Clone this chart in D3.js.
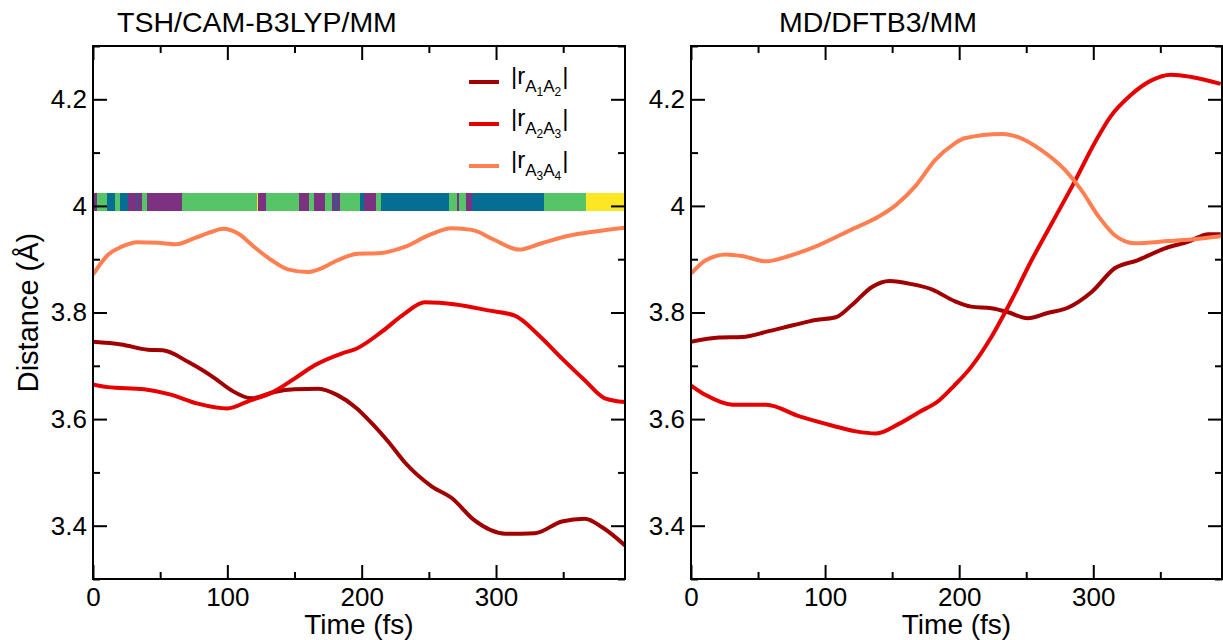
<!DOCTYPE html>
<html>
<head>
<meta charset="utf-8">
<script src="https://cdn.jsdelivr.net/npm/d3@7"></script>
<style>
  html, body { margin: 0; padding: 0; background: #fff; }
  svg { display: block; }
  text { font-family: "Liberation Sans", Arial, Helvetica, sans-serif; fill: #000; }
</style>
</head>
<body>
<svg id="chart" width="1223" height="640"></svg>
<script>
// ---------------- data ----------------
const panelTitles = ["TSH/CAM-B3LYP/MM", "MD/DFTB3/MM"];
const xTicks = [0, 100, 200, 300];
const xMinorTicks = [50, 150, 250, 350];
const yTicks = [3.4, 3.6, 3.8, 4.0, 4.2];
const yMinorTicks = [3.3, 3.5, 3.7, 3.9, 4.1, 4.3];
const seriesNames = [["A", "1", "A", "2"], ["A", "2", "A", "3"], ["A", "3", "A", "4"]];
const seriesColors = ["#a00000", "#e60000", "#ff7f50"];

// TSH/CAM-B3LYP/MM
const tshTimeA1A2 = [0, 21, 41, 52, 71, 91, 103, 118, 135, 150, 168, 182, 196, 208, 220, 232, 252, 267, 284, 307, 329, 349, 366, 379, 396];
const tshA1A2     = [3.745, 3.740, 3.730, 3.729, 3.707, 3.676, 3.654, 3.639, 3.651, 3.656, 3.657, 3.645, 3.621, 3.591, 3.557, 3.519, 3.474, 3.452, 3.410, 3.385, 3.386, 3.408, 3.413, 3.397, 3.363];
const tshTimeA2A3 = [0, 11, 38, 58, 78, 100, 115, 135, 150, 165, 185, 196, 215, 232, 247, 270, 294, 314, 332, 349, 366, 381, 396];
const tshA2A3     = [3.665, 3.660, 3.656, 3.646, 3.629, 3.620, 3.633, 3.652, 3.676, 3.701, 3.723, 3.732, 3.764, 3.798, 3.819, 3.815, 3.804, 3.794, 3.757, 3.714, 3.673, 3.639, 3.632];
const tshTimeA3A4 = [0, 11, 21, 33, 48, 62, 76, 88, 97, 108, 120, 133, 145, 160, 170, 182, 197, 212, 232, 250, 267, 282, 299, 317, 334, 354, 374, 396];
const tshA3A4     = [3.871, 3.908, 3.923, 3.932, 3.931, 3.928, 3.940, 3.951, 3.957, 3.948, 3.923, 3.898, 3.881, 3.876, 3.883, 3.898, 3.910, 3.911, 3.923, 3.945, 3.958, 3.955, 3.936, 3.918, 3.930, 3.944, 3.952, 3.959];

// MD/DFTB3/MM
const mdTimeA1A2 = [0, 21, 38, 58, 76, 93, 108, 120, 135, 148, 165, 180, 196, 209, 224, 236, 251, 266, 281, 299, 316, 333, 353, 371, 386, 395];
const mdA1A2     = [3.745, 3.753, 3.754, 3.765, 3.776, 3.786, 3.791, 3.814, 3.848, 3.859, 3.853, 3.843, 3.822, 3.811, 3.808, 3.801, 3.789, 3.799, 3.809, 3.839, 3.883, 3.898, 3.920, 3.933, 3.947, 3.947];
const mdTimeA2A3 = [0, 11, 31, 56, 81, 105, 123, 138, 155, 170, 185, 196, 209, 224, 239, 254, 269, 286, 301, 313, 328, 343, 358, 373, 395];
const mdA2A3     = [3.663, 3.645, 3.627, 3.627, 3.605, 3.588, 3.577, 3.573, 3.591, 3.613, 3.635, 3.662, 3.698, 3.754, 3.823, 3.898, 3.967, 4.045, 4.118, 4.168, 4.208, 4.235, 4.246, 4.242, 4.229];
const mdTimeA3A4 = [0, 11, 26, 38, 56, 73, 95, 120, 140, 153, 168, 182, 196, 204, 232, 244, 261, 279, 291, 304, 316, 331, 356, 373, 395];
const mdA3A4     = [3.873, 3.898, 3.909, 3.906, 3.896, 3.906, 3.926, 3.956, 3.980, 4.002, 4.039, 4.086, 4.116, 4.127, 4.135, 4.129, 4.105, 4.067, 4.030, 3.980, 3.945, 3.930, 3.934, 3.937, 3.943];

// active-state strip (TSH panel): start time of each segment and state index
const stateStart = [0, 2.8, 10.2, 16.4, 20.1, 26.3, 32.5, 33.7, 36.3, 40.4, 66, 121.9, 123.1, 128.8, 153.6, 160.8, 164.6, 172.7, 177.7, 180.2, 181.9, 183.9, 198.8, 202, 210.5, 214.4, 265.3, 270.8, 272.5, 277.7, 282.4, 336, 367.1];
const stateIndex = [0, 2, 1, 2, 1, 0, 1, 0, 2, 0, 2, 3, 0, 2, 0, 2, 0, 2, 0, 1, 0, 2, 1, 0, 2, 1, 2, 0, 2, 0, 1, 2, 3];
const stateColors = ["#7d3281", "#066e93", "#55c567", "#fde725"];
const timeEnd = 396;

// ---------------- drawing ----------------
const svg = d3.select("#chart");
const yTop = 46, yBottom = 579;
const panels = [
  { x0: 93, x1: 625, title: panelTitles[0], titleX: 257,
    series: [[tshTimeA1A2, tshA1A2], [tshTimeA2A3, tshA2A3], [tshTimeA3A4, tshA3A4]], strip: true, legend: true },
  { x0: 691, x1: 1222, title: panelTitles[1], titleX: 878,
    series: [[mdTimeA1A2, mdA1A2], [mdTimeA2A3, mdA2A3], [mdTimeA3A4, mdA3A4]], strip: false, legend: false }
];

const y = d3.scaleLinear().domain([3.3, 4.3]).range([yBottom, yTop]);
const fmtY = d => String(+d.toFixed(1));

panels.forEach((p, pi) => {
  const x = d3.scaleLinear().domain([0, timeEnd]).range([p.x0, p.x1]);
  const g = svg.append("g");
  const clipId = "clip" + pi;
  svg.append("clipPath").attr("id", clipId).append("rect")
    .attr("x", p.x0).attr("y", yTop).attr("width", p.x1 - p.x0).attr("height", yBottom - yTop);

  // state strip
  if (p.strip) {
    const segs = stateStart.map((s, i) => ({ s, e: i + 1 < stateStart.length ? stateStart[i + 1] : timeEnd, k: stateIndex[i] }));
    g.append("g").selectAll("rect").data(segs).join("rect")
      .attr("x", d => x(d.s)).attr("width", d => x(d.e) - x(d.s))
      .attr("y", y(4.025)).attr("height", y(3.99) - y(4.025))
      .attr("fill", d => stateColors[d.k])
      .attr("shape-rendering", "crispEdges");
  }

  // lines
  const line = d3.line().x(d => x(d[0])).y(d => y(d[1])).curve(d3.curveMonotoneX);
  p.series.forEach((s, si) => {
    const pts = s[0].map((t, i) => [t, s[1][i]]);
    g.append("path").datum(pts).attr("d", line)
      .attr("fill", "none").attr("stroke", seriesColors[si])
      .attr("stroke-width", 4).attr("stroke-linejoin", "round").attr("stroke-linecap", "butt")
      .attr("clip-path", `url(#${clipId})`);
  });

  // axes
  const axes = [
    { a: d3.axisBottom(x).tickValues(xTicks).tickSize(-14).tickPadding(9).tickFormat(d3.format("d")), t: `translate(0,${yBottom})` },
    { a: d3.axisBottom(x).tickValues(xMinorTicks).tickSize(-7).tickFormat(""), t: `translate(0,${yBottom})` },
    { a: d3.axisTop(x).tickValues(xTicks).tickSize(-14).tickFormat(""), t: `translate(0,${yTop})` },
    { a: d3.axisTop(x).tickValues(xMinorTicks).tickSize(-7).tickFormat(""), t: `translate(0,${yTop})` },
    { a: d3.axisLeft(y).tickValues(yTicks).tickSize(-14).tickPadding(6).tickFormat(fmtY), t: `translate(${p.x0},0)` },
    { a: d3.axisLeft(y).tickValues(yMinorTicks).tickSize(-7).tickFormat(""), t: `translate(${p.x0},0)` },
    { a: d3.axisRight(y).tickValues(yTicks).tickSize(-14).tickFormat(""), t: `translate(${p.x1},0)` },
    { a: d3.axisRight(y).tickValues(yMinorTicks).tickSize(-7).tickFormat(""), t: `translate(${p.x1},0)` }
  ];
  axes.forEach(ax => {
    const ag = g.append("g").attr("transform", ax.t).call(ax.a.tickSizeOuter(0));
    ag.select(".domain").remove();
    ag.selectAll("line").attr("stroke", "#000").attr("stroke-width", 2);
    ag.selectAll("text").attr("font-size", 26).attr("fill", "#000")
      .style("font-family", '"Liberation Sans", Arial, sans-serif');
  });

  // frame
  g.append("rect").attr("x", p.x0).attr("y", yTop)
    .attr("width", p.x1 - p.x0).attr("height", yBottom - yTop)
    .attr("fill", "none").attr("stroke", "#000").attr("stroke-width", 2);

  // title
  g.append("text").attr("x", p.titleX).attr("y", 32).attr("text-anchor", "middle")
    .attr("font-size", 28.5).text(p.title);

  // x label
  g.append("text").attr("x", (p.x0 + p.x1) / 2).attr("y", 634).attr("text-anchor", "middle")
    .attr("font-size", 28).text("Time (fs)");

  // legend
  if (p.legend) {
    const ly = [82, 124, 166];
    seriesNames.forEach((nm, i) => {
      g.append("line").attr("x1", 469).attr("x2", 499).attr("y1", ly[i]).attr("y2", ly[i])
        .attr("stroke", seriesColors[i]).attr("stroke-width", 4);
      const t = g.append("text").attr("x", 511).attr("y", ly[i] + 2).attr("font-size", 24);
      t.append("tspan").text("|r");
      t.append("tspan").attr("font-size", 17).attr("dy", 8).text(nm[0]);
      t.append("tspan").attr("font-size", 12).attr("dy", 4).text(nm[1]);
      t.append("tspan").attr("font-size", 17).attr("dy", -4).text(nm[2]);
      t.append("tspan").attr("font-size", 12).attr("dy", 4).text(nm[3]);
      t.append("tspan").attr("font-size", 24).attr("dy", -12).attr("dx", 1).text("|");
    });
  }
});

// y label
svg.append("text").attr("transform", `translate(38,${(yTop + yBottom) / 2}) rotate(-90)`)
  .attr("text-anchor", "middle").attr("font-size", 29).text("Distance (Å)");
</script>
</body>
</html>
